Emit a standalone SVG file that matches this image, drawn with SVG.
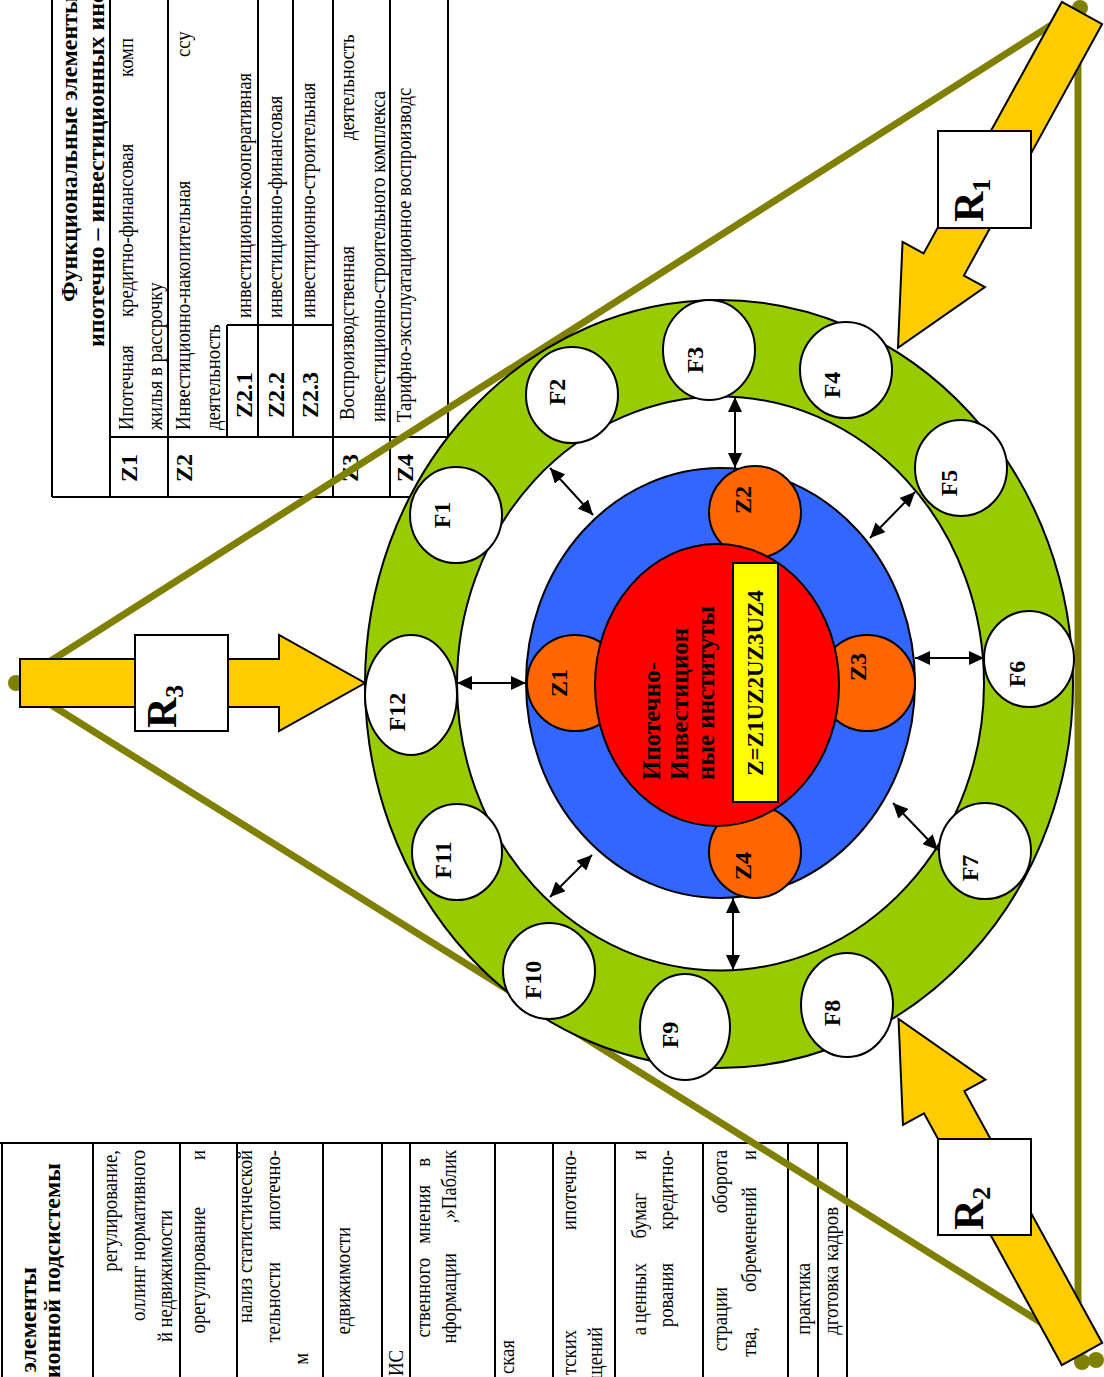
<svg xmlns="http://www.w3.org/2000/svg" width="1104" height="1377" viewBox="0 0 1104 1377">
<style>
.t{font-family:"Liberation Serif","Times New Roman",serif;font-size:22px;fill:#000}
.h{font-family:"Liberation Serif","Times New Roman",serif;font-size:24px;font-weight:bold;fill:#000}
.lbl{font-family:"Liberation Serif","Times New Roman",serif;font-size:24px;font-weight:bold;fill:#000;text-anchor:middle}
.tl{stroke:#000;stroke-width:2;fill:none}
.tri{stroke:#808000;stroke-width:7;fill:none;stroke-linecap:round}
.fc{fill:#fff;stroke:#000;stroke-width:2}
.zc{fill:#FF6600;stroke:#000;stroke-width:2}
.ya{fill:#FFCC00;stroke:#000;stroke-width:2;stroke-linejoin:miter}
.box{fill:#fff;stroke:#000;stroke-width:2}
.con{stroke:#000;stroke-width:2;fill:none;marker-start:url(#ah);marker-end:url(#ah)}
.rl{font-family:"Liberation Serif","Times New Roman",serif;font-size:42px;font-weight:bold;fill:#000}
</style>
<defs>
<marker id="ah" viewBox="0 0 15 14" refX="15" refY="7" markerWidth="15" markerHeight="14" markerUnits="userSpaceOnUse" orient="auto-start-reverse">
<path d="M0,0 L15,7 L0,14 z" fill="#000"/>
</marker>
</defs>
<rect width="1104" height="1377" fill="#fff"/>

<g id="table-top">
<path class="tl" d="M52,0V497 M110,0V497 M168,0V497 M227,325V437 M258,0V437 M293,0V437 M333,0V497 M390,0V497 M448,0V497 M52,497H448 M110,437H448 M227,325H333"/>
<text class="h" transform="translate(77,302) rotate(-90)">Функциональные элементы</text>
<text class="h" transform="translate(104,347) rotate(-90)">ипотечно – инвестиционных инст</text>
<text class="h" transform="translate(137,482) rotate(-90)">Z1</text>
<text class="t" transform="translate(133,430) rotate(-90) scale(0.85,1)">Ипотечная</text>
<text class="t" transform="translate(133,317) rotate(-90) scale(0.85,1)">кредитно-финансовая</text>
<text class="t" transform="translate(133,77) rotate(-90) scale(0.85,1)">комп</text>
<text class="t" transform="translate(162,430) rotate(-90) scale(0.85,1)">жилья в рассрочку</text>
<text class="h" transform="translate(192,482) rotate(-90)">Z2</text>
<text class="t" transform="translate(190,430) rotate(-90) scale(0.85,1)">Инвестиционно-накопительная</text>
<text class="t" transform="translate(190,57) rotate(-90) scale(0.85,1)">ссу</text>
<text class="t" transform="translate(220,430) rotate(-90) scale(0.85,1)">деятельность</text>
<text class="h" transform="translate(252,418) rotate(-90)">Z2.1</text>
<text class="t" transform="translate(251,318) rotate(-90) scale(0.85,1)">инвестиционно-кооперативная</text>
<text class="h" transform="translate(284,418) rotate(-90)">Z2.2</text>
<text class="t" transform="translate(282,318) rotate(-90) scale(0.85,1)">инвестиционно-финансовая</text>
<text class="h" transform="translate(318,418) rotate(-90)">Z2.3</text>
<text class="t" transform="translate(315,318) rotate(-90) scale(0.85,1)">инвестиционно-строительная</text>
<text class="h" transform="translate(358,482) rotate(-90)">Z3</text>
<text class="t" transform="translate(354,420) rotate(-90) scale(0.85,1)">Воспроизводственная</text>
<text class="t" transform="translate(354,140) rotate(-90) scale(0.85,1)">деятельность</text>
<text class="t" transform="translate(385,422) rotate(-90) scale(0.85,1)">инвестиционно-строительного комплекса</text>
<text class="h" transform="translate(413,482) rotate(-90)">Z4</text>
<text class="t" transform="translate(411,422) rotate(-90) scale(0.85,1)">Тарифно-эксплуатационное воспроизводс</text>
</g>

<g id="table-bottom" style="text-anchor:end">
<path class="tl" d="M0,1143H848 M2,1143V1377 M93,1143V1377 M180,1143V1377 M237,1143V1377 M323,1143V1377 M382,1143V1377 M410,1143V1377 M495,1143V1377 M553,1143V1377 M615,1143V1377 M703,1143V1377 M788,1143V1377 M818,1143V1377 M847,1143V1377"/>
<text class="h" transform="translate(36,1267) rotate(-90)">элементы</text>
<text class="h" transform="translate(60,1163) rotate(-90)">ионной подсистемы</text>
<text class="t" transform="translate(117,1150) rotate(-90) scale(0.85,1)">регулирование,</text>
<text class="t" transform="translate(145,1150) rotate(-90) scale(0.85,1)">оллинг нормативного</text>
<text class="t" transform="translate(172,1210) rotate(-90) scale(0.85,1)">й недвижимости</text>
<text class="t" transform="translate(205,1207) rotate(-90) scale(0.85,1)">орегулирование</text>
<text class="t" transform="translate(205,1150) rotate(-90) scale(0.85,1)">и</text>
<text class="t" transform="translate(252,1150) rotate(-90) scale(0.85,1)">нализ статистической</text>
<text class="t" transform="translate(280,1262) rotate(-90) scale(0.85,1)">тельности</text>
<text class="t" transform="translate(280,1150) rotate(-90) scale(0.85,1)">ипотечно-</text>
<text class="t" transform="translate(308,1353) rotate(-90) scale(0.85,1)">м</text>
<text class="t" transform="translate(350,1227) rotate(-90) scale(0.85,1)">едвижимости</text>
<text class="t" transform="translate(403,1350) rotate(-90) scale(0.85,1)">ИС</text>
<text class="t" transform="translate(430,1258) rotate(-90) scale(0.85,1)">ственного</text>
<text class="t" transform="translate(430,1185) rotate(-90) scale(0.85,1)">мнения</text>
<text class="t" transform="translate(430,1158) rotate(-90) scale(0.85,1)">в</text>
<text class="t" transform="translate(456,1253) rotate(-90) scale(0.85,1)">нформации</text>
<text class="t" transform="translate(456,1150) rotate(-90) scale(0.85,1)">,»Паблик</text>
<text class="t" transform="translate(514,1340) rotate(-90) scale(0.85,1)">ская</text>
<text class="t" transform="translate(576,1330) rotate(-90) scale(0.85,1)">тских</text>
<text class="t" transform="translate(576,1150) rotate(-90) scale(0.85,1)">ипотечно-</text>
<text class="t" transform="translate(602,1327) rotate(-90) scale(0.85,1)">щений</text>
<text class="t" transform="translate(646,1327) rotate(-90) scale(0.85,1)">а</text>
<text class="t" transform="translate(646,1263) rotate(-90) scale(0.85,1)">ценных</text>
<text class="t" transform="translate(646,1193) rotate(-90) scale(0.85,1)">бумаг</text>
<text class="t" transform="translate(646,1150) rotate(-90) scale(0.85,1)">и</text>
<text class="t" transform="translate(673,1263) rotate(-90) scale(0.85,1)">рования</text>
<text class="t" transform="translate(673,1150) rotate(-90) scale(0.85,1)">кредитно-</text>
<text class="t" transform="translate(727,1287) rotate(-90) scale(0.85,1)">страции</text>
<text class="t" transform="translate(727,1150) rotate(-90) scale(0.85,1)">оборота</text>
<text class="t" transform="translate(756,1327) rotate(-90) scale(0.85,1)">тва,</text>
<text class="t" transform="translate(756,1187) rotate(-90) scale(0.85,1)">обременений</text>
<text class="t" transform="translate(756,1150) rotate(-90) scale(0.85,1)">и</text>
<text class="t" transform="translate(810,1263) rotate(-90) scale(0.85,1)">практика</text>
<text class="t" transform="translate(838,1207) rotate(-90) scale(0.85,1)">дготовка кадров</text>
</g>

<g id="triangle">
<path class="tri" d="M16,683 L1078,8 L1078,1362 M16,683 L1085,1350"/>
<circle cx="16" cy="683" r="8" fill="#808000"/>
<circle cx="1080" cy="8" r="8" fill="#808000"/>
<circle cx="1082" cy="1362" r="8" fill="#808000"/>
<circle cx="1096" cy="1360" r="8" fill="#808000"/>
</g>

<g id="ring">
<ellipse cx="719" cy="684" rx="354" ry="384" fill="#99CC00" stroke="#000" stroke-width="2"/>
<ellipse cx="720.5" cy="683.5" rx="263.5" ry="287" fill="#fff" stroke="#000" stroke-width="2"/>
</g>

<g id="core">
<ellipse cx="720.5" cy="683" rx="194.5" ry="215" fill="#3366FF" stroke="#000" stroke-width="2"/>
</g>
<g id="Z1"><circle class="zc" cx="575" cy="683" r="48"/><text class="lbl" transform="translate(567,683) rotate(-90)">Z1</text></g>
<g id="Z2"><circle class="zc" cx="755" cy="512" r="46"/><text class="lbl" transform="translate(751,500) rotate(-90)">Z2</text></g>
<g id="Z3"><circle class="zc" cx="867" cy="683" r="48"/><text class="lbl" transform="translate(866,667) rotate(-90)">Z3</text></g>
<g id="Z4"><circle class="zc" cx="755" cy="852" r="46"/><text class="lbl" transform="translate(751,866) rotate(-90)">Z4</text></g>
<g id="center">
<ellipse cx="717" cy="685" rx="122" ry="141" fill="#FF0000" stroke="#000" stroke-width="2"/>
<text class="h" style="font-size:25px" transform="translate(660,780) rotate(-90)">Ипотечно-</text>
<text class="h" style="font-size:25px" transform="translate(688,780) rotate(-90)">Инвестицион</text>
<text class="h" style="font-size:25px" transform="translate(714,780) rotate(-90)">ные институты</text>
<rect x="733" y="563" width="45" height="239" fill="#FFFF00" stroke="#000" stroke-width="2"/>
<text class="lbl" style="font-size:23px" transform="translate(763,683) rotate(-90)">Z=Z1UZ2UZ3UZ4</text>
</g>

<g id="F1"><ellipse class="fc" cx="456" cy="515" rx="46" ry="48"/><text class="lbl" transform="translate(450,515) rotate(-90)">F1</text></g>
<g id="F2"><ellipse class="fc" cx="572" cy="395" rx="46" ry="48"/><text class="lbl" transform="translate(565,392) rotate(-90)">F2</text></g>
<g id="F3"><ellipse class="fc" cx="709" cy="350" rx="46" ry="50"/><text class="lbl" transform="translate(703,360) rotate(-90)">F3</text></g>
<g id="F4"><ellipse class="fc" cx="846" cy="370" rx="46" ry="48"/><text class="lbl" transform="translate(840,385) rotate(-90)">F4</text></g>
<g id="F5"><ellipse class="fc" cx="961" cy="468" rx="46" ry="48"/><text class="lbl" transform="translate(957,483) rotate(-90)">F5</text></g>
<g id="F6"><ellipse class="fc" cx="1029" cy="659" rx="45" ry="48"/><text class="lbl" transform="translate(1025,674) rotate(-90)">F6</text></g>
<g id="F7"><ellipse class="fc" cx="985" cy="851" rx="46" ry="48"/><text class="lbl" transform="translate(978,868) rotate(-90)">F7</text></g>
<g id="F8"><ellipse class="fc" cx="847" cy="1005" rx="46" ry="52"/><text class="lbl" transform="translate(840,1013) rotate(-90)">F8</text></g>
<g id="F9"><ellipse class="fc" cx="685" cy="1027" rx="45" ry="53"/><text class="lbl" transform="translate(678,1035) rotate(-90)">F9</text></g>
<g id="F10"><ellipse class="fc" cx="549" cy="971" rx="46" ry="48"/><text class="lbl" transform="translate(541,980) rotate(-90)">F10</text></g>
<g id="F11"><ellipse class="fc" cx="457" cy="852" rx="45" ry="48"/><text class="lbl" transform="translate(451,860) rotate(-90)">F11</text></g>
<g id="F12"><ellipse class="fc" cx="411" cy="695" rx="46" ry="60"/><text class="lbl" transform="translate(405,712) rotate(-90)">F12</text></g>

<g id="connectors">
<line class="con" x1="457" y1="683" x2="526" y2="683"/>
<line class="con" x1="735" y1="397" x2="735" y2="468"/>
<line class="con" x1="550" y1="468" x2="593" y2="515"/>
<line class="con" x1="915" y1="492" x2="870" y2="538"/>
<line class="con" x1="915" y1="658" x2="984" y2="658"/>
<line class="con" x1="893" y1="803" x2="938" y2="850"/>
<line class="con" x1="733" y1="898" x2="733" y2="970"/>
<line class="con" x1="550" y1="897" x2="592" y2="855"/>
</g>

<g id="R3">
<polygon class="ya" transform="translate(20,683)" points="0,-24 259,-24 259,-48 345,0 259,48 259,24 0,24"/>
<rect class="box" x="135" y="635" width="93" height="96"/>
<text class="rl" transform="translate(176,728) rotate(-90)">R<tspan font-size="26" dy="7">3</tspan></text>
</g>
<g id="R1">
<polygon class="ya" transform="translate(1082,13) rotate(118.8)" points="0,-23 287,-23 287,-47 382,0 287,47 287,23 0,23"/>
<rect class="box" x="938" y="131" width="93" height="97"/>
<text class="rl" transform="translate(983,222) rotate(-90)">R<tspan font-size="26" dy="7">1</tspan></text>
</g>
<g id="R2">
<polygon class="ya" transform="translate(1082,1354) rotate(-118.7)" points="0,-23 287,-23 287,-47 382,0 287,47 287,23 0,23"/>
<rect class="box" x="938" y="1139" width="93" height="96"/>
<text class="rl" transform="translate(983,1230) rotate(-90)">R<tspan font-size="26" dy="7">2</tspan></text>
</g>
</svg>
